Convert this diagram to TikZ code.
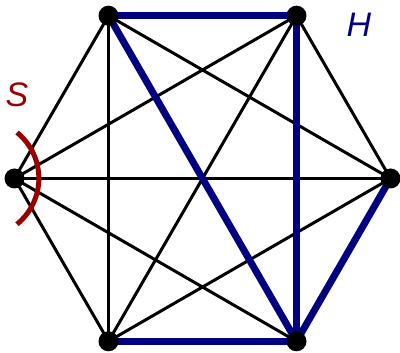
\documentclass[tikz,border=0pt]{standalone}
\usepackage{fontspec}
\setmainfont{Liberation Sans}
\usepackage{xcolor}
\definecolor{hnavy}{HTML}{000080}
\definecolor{sred}{HTML}{990000}

\begin{document}
\begin{tikzpicture}[x=1pt, y=1pt,
    vertex/.style={circle, fill=black, inner sep=0pt, minimum size=20pt},
    edge/.style={black, line width=3pt},
    hedge/.style={hnavy, line width=7pt},
    sarc/.style={sred, line width=5pt},
    glabel/.style={font=\fontsize{34}{34}\selectfont\itshape, inner sep=0pt}]
  \useasboundingbox (0,0) rectangle (400,353);
  % hexagon corners
  \coordinate (v0) at (390.5,174.5);
  \coordinate (v1) at (296.5,337.3);
  \coordinate (v2) at (108.5,337.3);
  \coordinate (v3) at (14.5,174.5);
  \coordinate (v4) at (108.5,11.7);
  \coordinate (v5) at (296.5,11.7);
  % edges outside H
  \draw[edge] (v0) -- (v1);
  \draw[edge] (v0) -- (v2);
  \draw[edge] (v0) -- (v3);
  \draw[edge] (v0) -- (v4);
  \draw[edge] (v1) -- (v3);
  \draw[edge] (v1) -- (v4);
  \draw[edge] (v2) -- (v3);
  \draw[edge] (v2) -- (v4);
  \draw[edge] (v3) -- (v4);
  \draw[edge] (v3) -- (v5);
  % edges of H
  \draw[hedge] (v2) -- (v1);
  \draw[hedge] (v2) -- (v5);
  \draw[hedge] (v1) -- (v5);
  \draw[hedge] (v5) -- (v0);
  \draw[hedge] (v4) -- (v5);
  % the cut S
  \draw[sarc] (v3) ++(2.5,46) arc[start angle=51, end angle=-51, radius=59];
  % vertices
  \foreach \v in {v0,v1,v2,v3,v4,v5}
    \node[vertex] (n\v) at (\v) {};
  \node[glabel, text=hnavy] (hlab) at (359,328) {H};
  \node[glabel, text=sred] (slab) at (17,258) {S};
\end{tikzpicture}
\end{document}
